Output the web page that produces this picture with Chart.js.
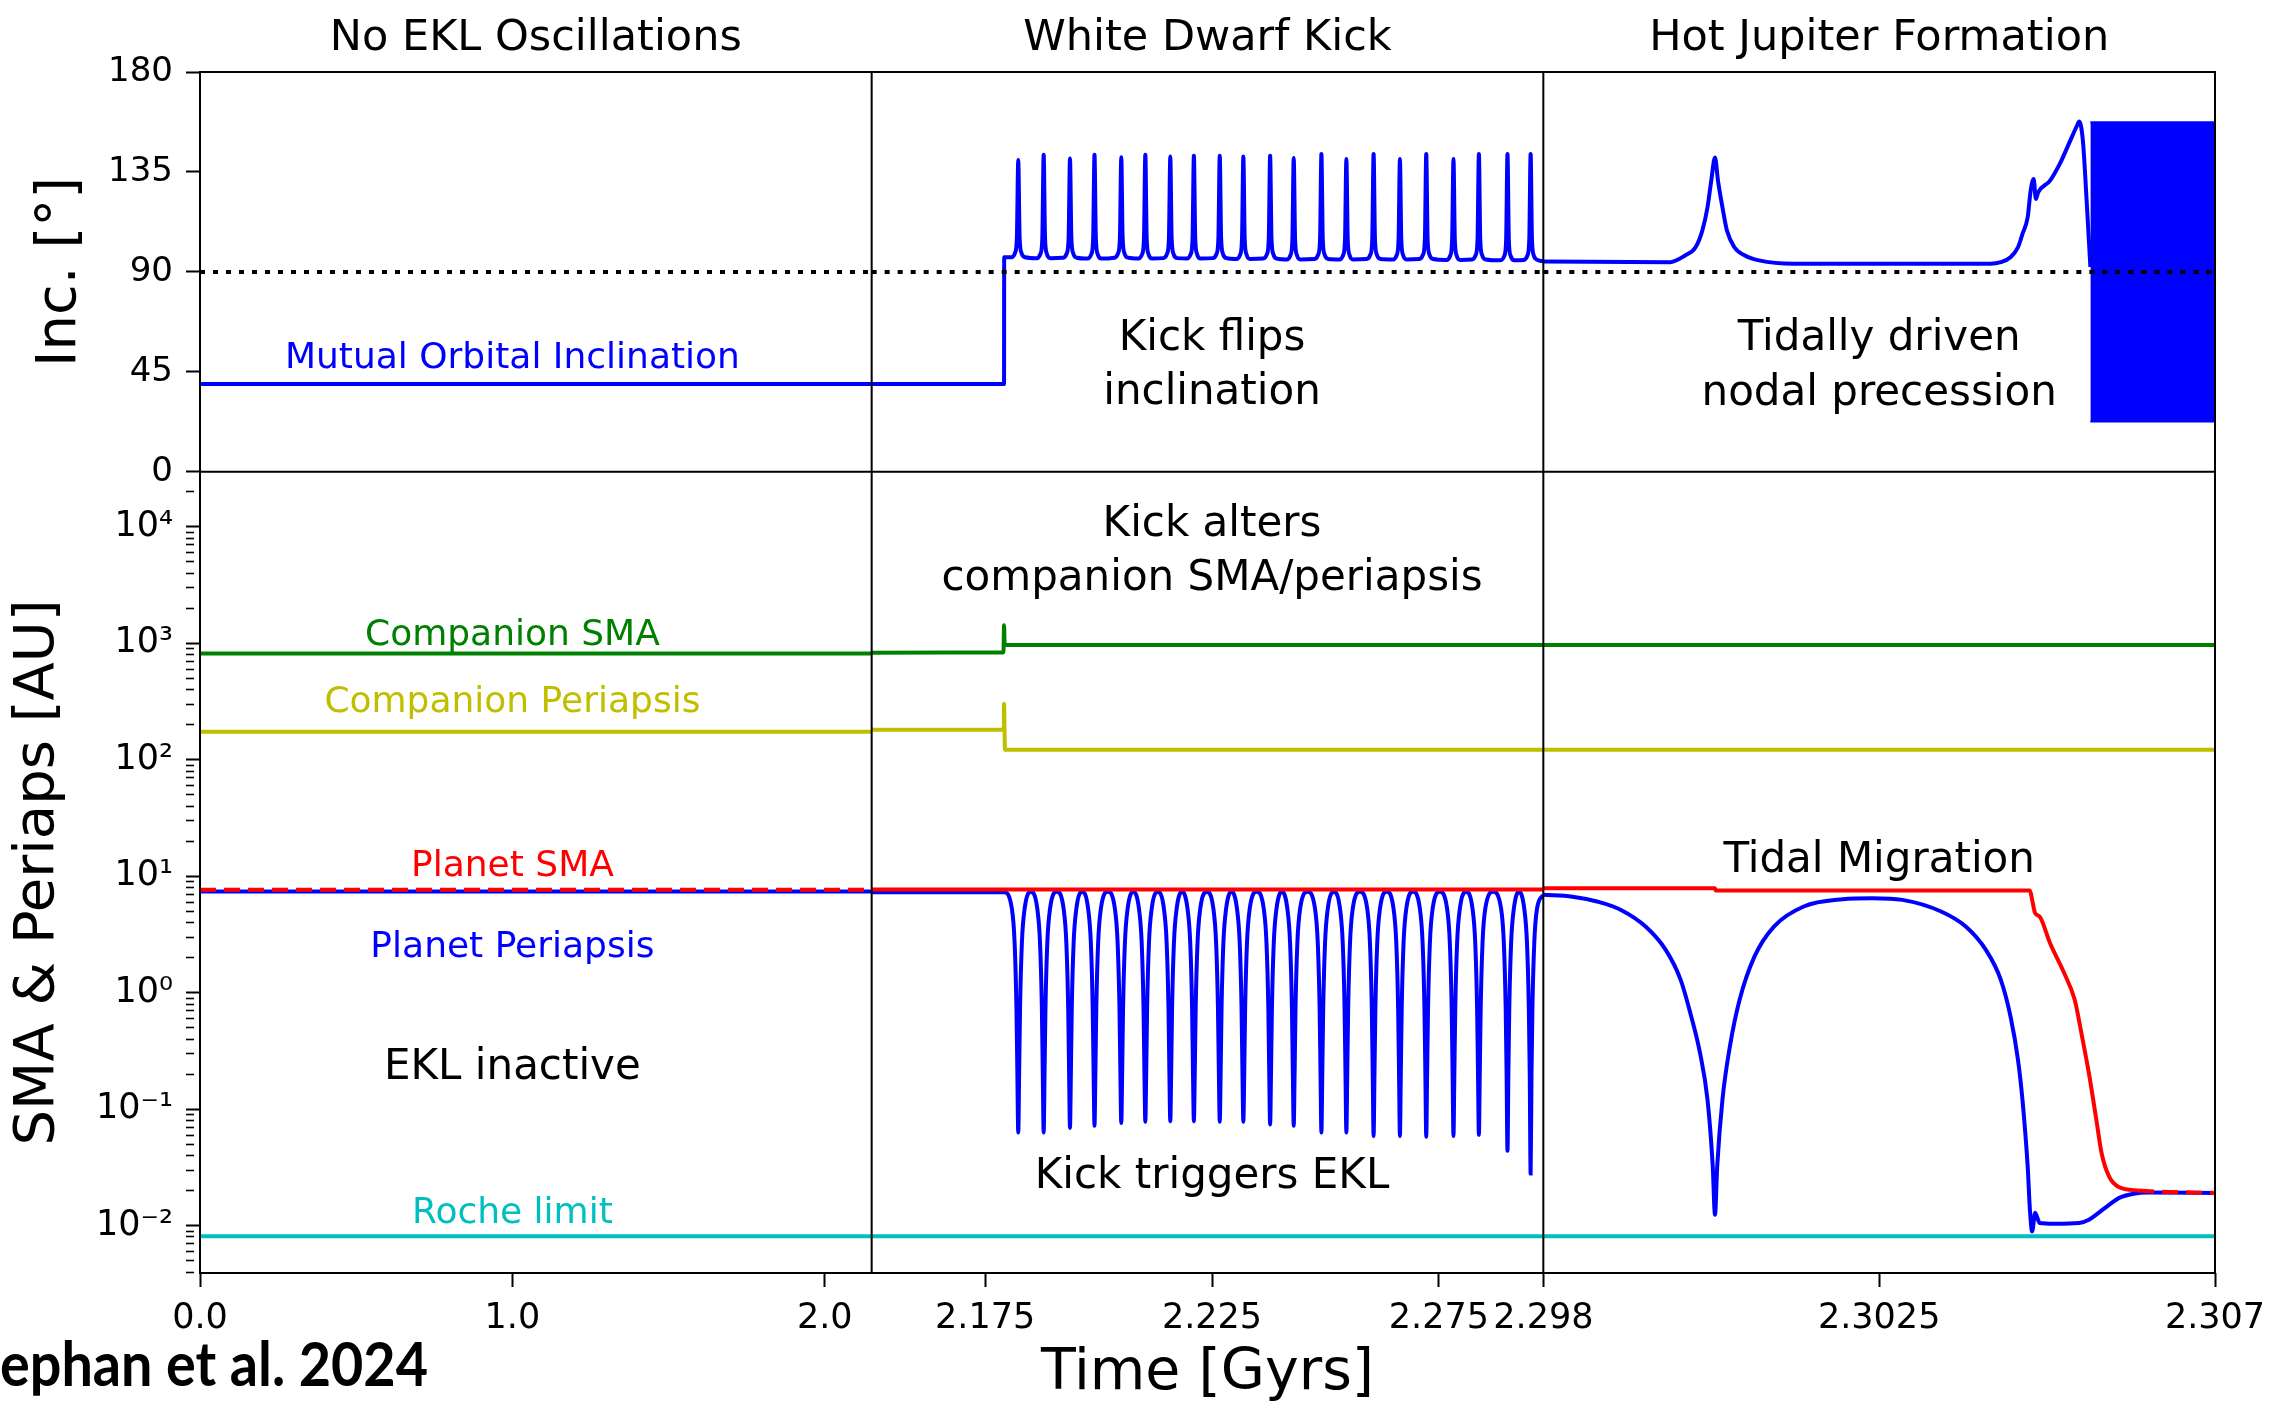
<!DOCTYPE html>
<html>
<head>
<meta charset="utf-8">
<title>EKL evolution after a white dwarf kick</title>
<script src="https://cdn.jsdelivr.net/npm/chart.js@4.4.1/dist/chart.umd.min.js"></script>
<style>
  html, body { margin: 0; padding: 0; background: #fff; }
  canvas { display: block; }
</style>
</head>
<body>
<canvas id="eklChart" width="2270" height="1403"></canvas>
<script>
const BLUE = '#0000ff';
const GREEN = '#008000';
const OLIVE = '#bfbf00';
const RED = '#ff0000';
const CYAN = '#00bfbf';
const INK = '#000000';
const FONT = "'DejaVu Sans', sans-serif";

// Three time windows drawn side by side [Gyr]
const seg1Span = [0, 2.15];
const seg2Span = [2.15, 2.298];
const seg3Span = [2.298, 2.307];
const seg1Ticks = [0, 1, 2];
const seg1Labels = ['0.0', '1.0', '2.0'];
const seg2Ticks = [2.175, 2.225, 2.275];
const seg2Labels = ['2.175', '2.225', '2.275'];
const seg3Ticks = [2.298, 2.3025, 2.307];
const seg3Labels = ['2.298', '2.3025', '2.307'];
const sectionTitles = ['No EKL Oscillations', 'White Dwarf Kick', 'Hot Jupiter Formation'];

// Vertical axes
const incTicks = [0, 45, 90, 135, 180];
const logRange = [Math.pow(10, -2.406), Math.pow(10, 4.472)];
const flipLine = 90;

// Mutual inclination [deg]
const incSeg1 = [[0, 39.5], [2.15, 39.5]];
const incSeg2Start = [[2.15, 39.5], [2.17917, 39.5], [2.1792, 96.6]];
const incSeg2End = [[2.298, 94.8]];
const incSeg3 = [
  [2.298, 94.7], [2.2997, 94.4], [2.2999, 97.4], [2.30004, 101.1], [2.30013, 108.6],
  [2.3002, 119.1], [2.30025, 131.1], [2.3003, 141.5], [2.30034, 131.1], [2.3004, 119.1],
  [2.30046, 108.6], [2.30056, 101.1], [2.3007, 97.4], [2.30089, 95.2], [2.30135, 93.7],
  [2.30399, 93.7], [2.30413, 94.4], [2.30426, 96.6], [2.30436, 101.1], [2.30442, 107.1],
  [2.30449, 114.6], [2.30453, 126.6], [2.30457, 131.8], [2.3046, 122.8], [2.30463, 125.8],
  [2.30479, 131.1], [2.30492, 138.6], [2.30505, 148.3], [2.30515, 155.8], [2.30518, 157.7],
  [2.30523, 149.0], [2.30528, 122.1], [2.30533, 92.2]
];
// fast nodal precession: envelope of the oscillation
const incBandT = [2.30533, 2.307];
const incBandHi = [157.4, 157.4];
const incBandLo = [22.6, 22.6];

// EKL cycles after the kick: spike times, inclination peaks / floors, periapsis minima
const eklTimes = [2.1823, 2.1879, 2.1937, 2.1991, 2.2050, 2.2103, 2.2158, 2.2210, 2.2267, 2.2319, 2.2378,
  2.2430, 2.2491, 2.2546, 2.2606, 2.2664, 2.2722, 2.2782, 2.2838, 2.2901, 2.2952];
const incPeaks = [140.4, 142.7, 141.1, 142.7, 141.6, 142.7, 141.9, 142.3, 142.3, 141.9, 142.3,
  141.3, 143.1, 140.8, 143.1, 140.8, 143.1, 140.8, 143.1, 143.1, 143.1];
const incFloors = [96.6, 96.2, 96.4, 96.0, 96.4, 96.0, 96.2, 96.0, 96.2, 95.8, 96.0,
  95.6, 95.8, 95.6, 95.8, 95.6, 95.8, 95.4, 95.6, 95.2, 95.4];
const eklDipMin = [0.063, 0.063, 0.069, 0.072, 0.076, 0.078, 0.079, 0.079, 0.078, 0.078, 0.074,
  0.072, 0.063, 0.063, 0.059, 0.059, 0.058, 0.059, 0.060, 0.044, 0.028];
// profile of one cycle: [time offset, lift above floor] and [time offset, periapsis]
const spikeShape = [[-0.0015, 0], [-0.0007, 2], [-0.0003, 9], [0, null], [0.0003, 9], [0.0007, 2], [0.0015, 0]];
const dipShape = [[-0.0014, 5.25], [-0.0008, 2.67], [-0.0004, 0.75], [-0.0002, 0.21], [0, null],
  [0.0002, 0.21], [0.0004, 0.75], [0.0008, 2.67], [0.0014, 5.25]];
const archTop = 7.35;

// Companion orbit [AU]
const compSmaSeg1 = [[0, 815], [2.15, 815]];
const compSmaSeg2 = [[2.15, 830], [2.1789, 835], [2.17905, 860], [2.17917, 1430], [2.1793, 1000], [2.1796, 966], [2.298, 966]];
const compSmaSeg3 = [[2.298, 966], [2.307, 966]];
const compPeriSeg1 = [[0, 174], [2.15, 174]];
const compPeriSeg2 = [[2.15, 181], [2.17912, 181], [2.17917, 302], [2.17937, 122], [2.298, 122]];
const compPeriSeg3 = [[2.298, 122], [2.307, 122]];

// Planet orbit [AU]
const planetSmaSeg1 = [[0, 7.65], [2.15, 7.65]];
const planetSmaSeg2 = [[2.15, 7.7], [2.298, 7.7]];
const planetSmaSeg3 = [
  [2.298, 7.9], [2.3003, 7.9], [2.30031, 7.55], [2.30452, 7.55], [2.30455, 6.27], [2.30459, 4.82],
  [2.30465, 4.51], [2.30479, 2.66], [2.30498, 1.47], [2.30512, 0.869], [2.30521, 0.45], [2.30531, 0.204],
  [2.30541, 0.0813], [2.30548, 0.0421], [2.30558, 0.0265], [2.30571, 0.0215], [2.30597, 0.0201], [2.307, 0.0191]
];
const planetPeriSeg1 = [[0, 7.4], [2.15, 7.4]];
const planetPeriSeg2Start = [[2.15, 7.3], [2.17917, 7.3]];
const planetPeriSeg2End = [[2.298, 6.92]];
const planetPeriSeg3 = [
  [2.298, 6.92], [2.29839, 6.68], [2.29872, 6.07], [2.29904, 5.14], [2.29937, 3.70], [2.29964, 2.33],
  [2.29984, 1.29], [2.29997, 0.668], [2.3001, 0.303], [2.3002, 0.1205], [2.30027, 0.0323], [2.3003, 0.0124],
  [2.30033, 0.0323], [2.3004, 0.1205], [2.3005, 0.346], [2.30063, 0.869], [2.30083, 2.05], [2.30109, 3.70],
  [2.30149, 5.50], [2.30201, 6.35], [2.30241, 6.48], [2.30281, 6.27], [2.30333, 4.98], [2.30366, 3.70],
  [2.30393, 2.33], [2.30413, 1.29], [2.30426, 0.625], [2.30436, 0.266], [2.30442, 0.1205], [2.30449, 0.0323],
  [2.30452, 0.0137], [2.30455, 0.00893], [2.30459, 0.0129], [2.30465, 0.01055], [2.30485, 0.0104],
  [2.30518, 0.01055], [2.30531, 0.01127], [2.30544, 0.0129], [2.30558, 0.0151], [2.30571, 0.01726],
  [2.30591, 0.01883], [2.3061, 0.0193], [2.307, 0.0191]
];
const rocheLimit = 0.0081;

// Text placed in data coordinates
const notes = [
  { text: 'Mutual Orbital Inclination', x: 'x1', t: 1.0, y: 'yInc', v: 46.7, color: BLUE, size: 36 },
  { text: 'Kick flips', x: 'x2', t: 2.225, y: 'yInc', v: 54.8, color: INK, size: 42 },
  { text: 'inclination', x: 'x2', t: 2.225, y: 'yInc', v: 30.5, color: INK, size: 42 },
  { text: 'Tidally driven', x: 'x3', t: 2.3025, y: 'yInc', v: 54.8, color: INK, size: 42 },
  { text: 'nodal precession', x: 'x3', t: 2.3025, y: 'yInc', v: 30.0, color: INK, size: 42 },
  { text: 'Companion SMA', x: 'x1', t: 1.0, y: 'yLog', v: 966, color: GREEN, size: 36 },
  { text: 'Companion Periapsis', x: 'x1', t: 1.0, y: 'yLog', v: 257, color: OLIVE, size: 36 },
  { text: 'Planet SMA', x: 'x1', t: 1.0, y: 'yLog', v: 10.07, color: RED, size: 36 },
  { text: 'Planet Periapsis', x: 'x1', t: 1.0, y: 'yLog', v: 2.03, color: BLUE, size: 36 },
  { text: 'Roche limit', x: 'x1', t: 1.0, y: 'yLog', v: 0.0106, color: CYAN, size: 36 },
  { text: 'EKL inactive', x: 'x1', t: 1.0, y: 'yLog', v: 0.18, color: INK, size: 42 },
  { text: 'Kick alters', x: 'x2', t: 2.225, y: 'yLog', v: 8318, color: INK, size: 42 },
  { text: 'companion SMA/periapsis', x: 'x2', t: 2.225, y: 'yLog', v: 2866, color: INK, size: 42 },
  { text: 'Kick triggers EKL', x: 'x2', t: 2.225, y: 'yLog', v: 0.0212, color: INK, size: 42 },
  { text: 'Tidal Migration', x: 'x3', t: 2.3025, y: 'yLog', v: 10.9, color: INK, size: 42 }
];

const pts = arr => arr.map(([x, y]) => ({ x, y }));

// one EKL spike per cycle in inclination
function spikeTrace() {
  const out = [];
  eklTimes.forEach((t, i) => {
    spikeShape.forEach(([dt, lift]) => {
      out.push({ x: t + dt, y: lift === null ? incPeaks[i] : incFloors[i] + lift });
    });
  });
  return out;
}

// one periapsis dip per cycle, arches in between
function dipTrace() {
  const out = [];
  eklTimes.forEach((t, i) => {
    dipShape.forEach(([dt, v]) => {
      out.push({ x: t + dt, y: v === null ? eklDipMin[i] : v });
    });
    if (i < eklTimes.length - 1) out.push({ x: (t + eklTimes[i + 1]) / 2, y: archTop });
  });
  return out;
}

function trace(xAxisID, yAxisID, data, color, extra) {
  return Object.assign({
    xAxisID, yAxisID, data,
    borderColor: color, backgroundColor: color,
    borderWidth: 4, pointRadius: 0, fill: false,
    cubicInterpolationMode: 'monotone', order: 4
  }, extra || {});
}

const SUP = { '-': '\u207B', '0': '\u2070', '1': '\u00B9', '2': '\u00B2', '3': '\u00B3', '4': '\u2074' };
const decadeLabel = d => '10' + String(d).split('').map(c => SUP[c]).join('');

const logTicks = [];
for (let d = -3; d <= 4; d++) {
  for (let m = 1; m <= 9; m++) {
    const v = m * Math.pow(10, d);
    if (v >= logRange[0] && v <= logRange[1]) logTicks.push({ value: v, major: m === 1, exp: d });
  }
}

function timeAxis(span, ticks, labels, weight, title) {
  return {
    type: 'linear', position: 'bottom', stack: 'time', stackWeight: 1, weight,
    min: span[0], max: span[1],
    afterBuildTicks: axis => { axis.ticks = ticks.map(v => ({ value: v })); },
    afterFit: axis => { axis.height = 130; axis.paddingLeft = 0; axis.paddingRight = 0; },
    ticks: {
      autoSkip: false, maxRotation: 0, minRotation: 0, padding: 11,
      font: { size: 35 }, callback: (v, i) => labels[i]
    },
    grid: { drawOnChartArea: false, drawTicks: true, tickLength: 14, tickWidth: 2, tickColor: INK },
    border: { display: false },
    title: title
      ? { display: true, text: title, font: { size: 57 }, padding: { top: 0, bottom: -5 } }
      : { display: false }
  };
}

Chart.defaults.font.family = FONT;
Chart.defaults.color = INK;

const panelDecor = {
  id: 'panelDecor',
  afterDatasetsDraw(chart) {
    const { ctx, chartArea: area, scales } = chart;
    ctx.save();

    // frame, panel split and window separators
    ctx.strokeStyle = INK;
    ctx.lineWidth = 2;
    ctx.beginPath();
    ctx.rect(area.left, area.top, area.right - area.left, area.bottom - area.top);
    ctx.moveTo(area.left, scales.yInc.bottom);
    ctx.lineTo(area.right, scales.yInc.bottom);
    [scales.x1.right, scales.x2.right].forEach(x => {
      ctx.moveTo(x, area.top);
      ctx.lineTo(x, area.bottom);
    });
    ctx.stroke();

    // notes inside the panels
    ctx.textAlign = 'center';
    ctx.textBaseline = 'alphabetic';
    notes.forEach(n => {
      ctx.font = n.size + 'px ' + FONT;
      ctx.fillStyle = n.color;
      ctx.fillText(n.text, scales[n.x].getPixelForValue(n.t), scales[n.y].getPixelForValue(n.v));
    });

    // window headings
    ctx.font = '43px ' + FONT;
    ctx.fillStyle = INK;
    ['x1', 'x2', 'x3'].forEach((id, i) => {
      const s = scales[id];
      ctx.fillText(sectionTitles[i], (s.left + s.right) / 2, area.top - 22);
    });

    // citation, running off the left edge
    ctx.font = "bold 62px Lato, 'DejaVu Sans', sans-serif";
    const squeeze = 428 / ctx.measureText('ephan et al. 2024').width;
    ctx.translate(428, 1386);
    ctx.scale(squeeze, 1);
    ctx.textAlign = 'right';
    ctx.fillText('Stephan et al. 2024', 0, 0);

    ctx.restore();
  }
};

const datasets = [
  // inclination panel
  trace('x3', 'yInc', incBandT.map((t, i) => ({ x: t, y: incBandHi[i] })), BLUE, { borderWidth: 2, order: 5 }),
  trace('x3', 'yInc', incBandT.map((t, i) => ({ x: t, y: incBandLo[i] })), BLUE, { borderWidth: 2, order: 5, fill: '-1' }),
  trace('x1', 'yInc', pts(incSeg1), BLUE),
  trace('x2', 'yInc', pts(incSeg2Start).concat(spikeTrace(), pts(incSeg2End)), BLUE),
  trace('x3', 'yInc', pts(incSeg3), BLUE),
  trace('x1', 'yInc', pts([[seg1Span[0], flipLine], [seg1Span[1], flipLine]]), INK, { borderDash: [5, 8], order: 0 }),
  trace('x2', 'yInc', pts([[seg2Span[0], flipLine], [seg2Span[1], flipLine]]), INK, { borderDash: [5, 8], order: 0 }),
  trace('x3', 'yInc', pts([[seg3Span[0], flipLine], [seg3Span[1], flipLine]]), INK, { borderDash: [5, 8], order: 0 }),

  // orbits panel
  trace('x1', 'yLog', pts(compSmaSeg1), GREEN),
  trace('x2', 'yLog', pts(compSmaSeg2), GREEN),
  trace('x3', 'yLog', pts(compSmaSeg3), GREEN),
  trace('x1', 'yLog', pts(compPeriSeg1), OLIVE),
  trace('x2', 'yLog', pts(compPeriSeg2), OLIVE),
  trace('x3', 'yLog', pts(compPeriSeg3), OLIVE),
  trace('x1', 'yLog', pts(planetPeriSeg1), BLUE, { order: 3 }),
  trace('x2', 'yLog', pts(planetPeriSeg2Start).concat(dipTrace(), pts(planetPeriSeg2End)), BLUE, { order: 3 }),
  trace('x3', 'yLog', pts(planetPeriSeg3), BLUE, { order: 3 }),
  trace('x1', 'yLog', pts(planetSmaSeg1), RED, { order: 2, borderDash: [16, 8] }),
  trace('x2', 'yLog', pts(planetSmaSeg2), RED, { order: 2 }),
  trace('x3', 'yLog', pts(planetSmaSeg3), RED, {
    order: 2,
    segment: { borderDash: ctx => (ctx.p0.parsed.x >= 2.3059 ? [16, 8] : undefined) }
  }),
  trace('x1', 'yLog', pts([[seg1Span[0], rocheLimit], [seg1Span[1], rocheLimit]]), CYAN),
  trace('x2', 'yLog', pts([[seg2Span[0], rocheLimit], [seg2Span[1], rocheLimit]]), CYAN),
  trace('x3', 'yLog', pts([[seg3Span[0], rocheLimit], [seg3Span[1], rocheLimit]]), CYAN)
];

new Chart(document.getElementById('eklChart'), {
  type: 'line',
  data: { datasets },
  options: {
    responsive: false,
    animation: false,
    events: [],
    layout: { padding: { top: 72, right: 55, bottom: 0, left: 0 } },
    plugins: {
      legend: { display: false },
      tooltip: { enabled: false }
    },
    scales: {
      x1: timeAxis(seg1Span, seg1Ticks, seg1Labels, 1, null),
      x2: timeAxis(seg2Span, seg2Ticks, seg2Labels, 2, 'Time [Gyrs]'),
      x3: timeAxis(seg3Span, seg3Ticks, seg3Labels, 3, null),
      yInc: {
        type: 'linear', position: 'left', stack: 'panels', stackWeight: 400, weight: 2,
        min: 0, max: 180,
        afterBuildTicks: axis => { axis.ticks = incTicks.map(v => ({ value: v })); },
        afterFit: axis => { axis.width = 200; axis.paddingTop = 0; axis.paddingBottom = 0; },
        ticks: { autoSkip: false, padding: 13, font: { size: 34 }, callback: v => String(v) },
        grid: { drawOnChartArea: false, tickLength: 14, tickWidth: 2, tickColor: INK },
        border: { display: false },
        title: { display: true, text: 'Inc. [°]', font: { size: 56 }, padding: { top: 27, bottom: 0 } }
      },
      yLog: {
        type: 'logarithmic', position: 'left', stack: 'panels', stackWeight: 801.6, weight: 1,
        min: logRange[0], max: logRange[1],
        afterBuildTicks: axis => { axis.ticks = logTicks.map(t => ({ value: t.value, major: t.major })); },
        afterFit: axis => { axis.width = 200; axis.paddingTop = 0; axis.paddingBottom = 0; },
        ticks: {
          autoSkip: false, padding: 13, font: { size: 35 },
          callback: (v, i) => (logTicks[i].major ? decadeLabel(logTicks[i].exp) : '')
        },
        grid: {
          drawOnChartArea: false, tickLength: 14, tickColor: INK,
          tickWidth: ctx => (ctx.tick && ctx.tick.major ? 2 : 1.6),
          tickBorderDash: ctx => (ctx.tick && ctx.tick.major ? [] : [8, 40])
        },
        border: { display: false },
        title: { display: true, text: 'SMA & Periaps [AU]', font: { size: 56 }, padding: { top: 5, bottom: 0 } }
      }
    }
  },
  plugins: [panelDecor]
});
</script>
</body>
</html>
